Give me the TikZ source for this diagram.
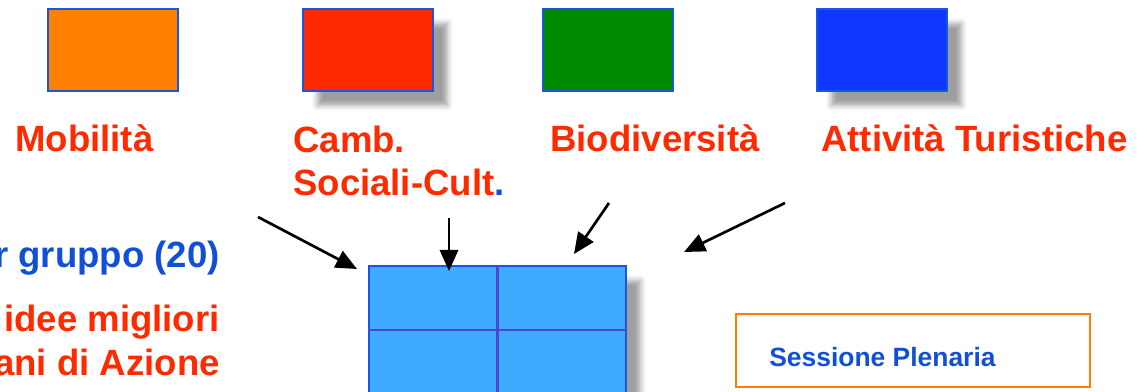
\documentclass[tikz,border=0pt]{standalone}
\usepackage{fontspec}
\setmainfont{Liberation Sans}
\usetikzlibrary{arrows.meta,shadows.blur}

\definecolor{arancio}{RGB}{255,127,0}
\definecolor{rosso}{RGB}{255,42,0}
\definecolor{verde}{RGB}{0,138,0}
\definecolor{bluscuro}{RGB}{15,55,255}
\definecolor{celeste}{RGB}{64,170,255}
\definecolor{bordo}{RGB}{24,85,225}
\definecolor{testoblu}{RGB}{16,80,216}
\definecolor{linea}{RGB}{72,72,210}

\begin{document}
\begin{tikzpicture}[x=0.025cm,y=-0.025cm,
    box/.style={draw=bordo,line width=1.6pt,minimum width=3.25cm,minimum height=2.05cm,inner sep=0pt},
    piatto/.style={},
    ombra/.style={blur shadow={shadow xshift=0.36cm,shadow yshift=-0.36cm,shadow blur radius=0.14cm,shadow opacity=38}},
    titolo/.style={anchor=base west,inner sep=0pt,text=rosso,font=\fontsize{26}{30.6}\selectfont\bfseries},
    freccia/.style={line width=1.9pt,-{Triangle[length=15pt,width=13pt]}}]
    \clip (0,0) rectangle (1147,392);
    \foreach \n/\x/\c/\s in {mob/113/arancio/piatto,camb/368/rosso/ombra,bio/608/verde/piatto,turi/882/bluscuro/ombra}
        \node[box,fill=\c,\s] (\n) at (\x,50) {};
    \node[titolo] (mobL) at (15,152) {Mobilità};
    \node[titolo,align=left] (cambL) at (293,196) {Camb.\\Sociali-Cult\textcolor{testoblu}{.}};
    \node[titolo] (bioL) at (550,152) {Biodiversità};
    \node[titolo] (turiL) at (821,152) {Attività Turistiche};
    \node[titolo,anchor=base east,text=testoblu] (gruppo) at (220,268) {r gruppo (20)};
    \node[titolo,anchor=base east] (idee) at (220,332) {idee migliori};
    \node[titolo,anchor=base east] (piani) at (220,376) {ani di Azione};
    % tavolo dei gruppi
    \node[box,fill=celeste,ombra,minimum width=6.425cm,minimum height=3.2cm] (tavolo) at (497.5,330) {};
    \draw[linea,line width=1.6pt] (tavolo.north) -- (tavolo.south) (tavolo.west) -- (tavolo.east);
    \node[draw=arancio,line width=2pt,fill=white,minimum width=8.85cm,minimum height=1.825cm] (plenaria) at (913,350.5) {};
    \node[anchor=base west,inner sep=0pt,text=testoblu,font=\fontsize{18.8}{22}\selectfont\bfseries] (plenT) at (769,367) {Sessione Plenaria};
    \coordinate (p1) at (258,217); \coordinate (q1) at (357,269);
    \coordinate (p2) at (449,218); \coordinate (q2) at (449,271);
    \coordinate (p3) at (609,203); \coordinate (q3) at (574,254);
    \coordinate (p4) at (785,203); \coordinate (q4) at (684,252);
    \foreach \i in {1,...,4}
        \draw[freccia] (p\i) -- (q\i);
\end{tikzpicture}
\end{document}
